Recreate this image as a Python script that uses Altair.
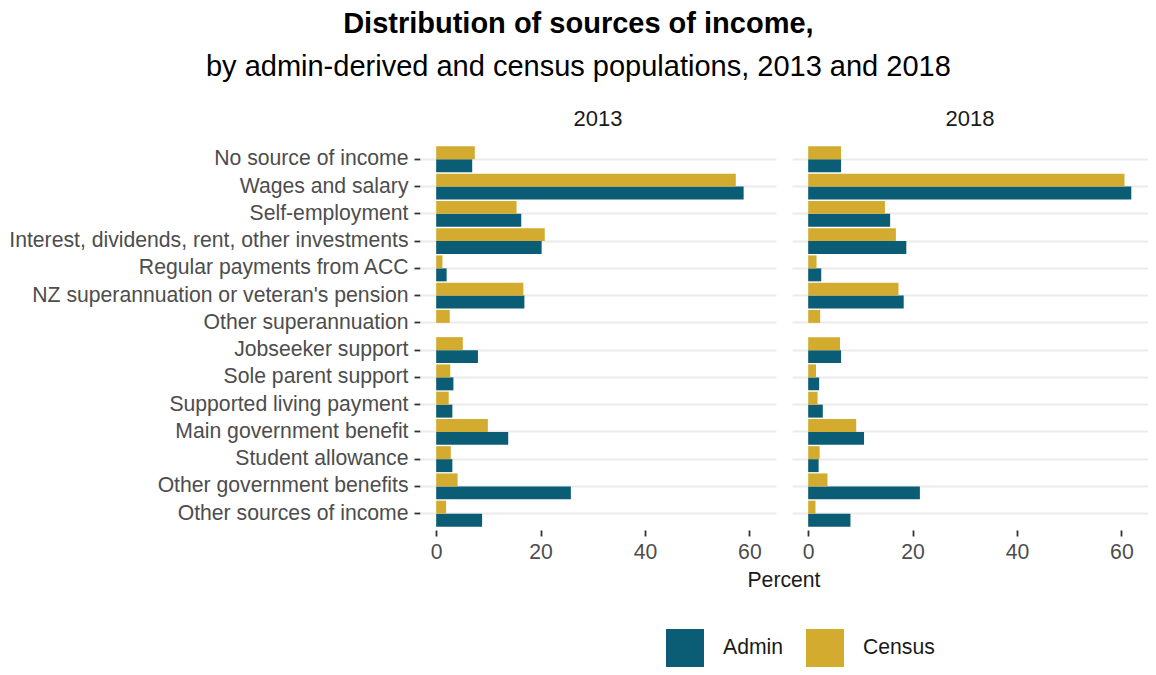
import altair as alt
import pandas as pd

categories = [
    "No source of income", "Wages and salary", "Self-employment",
    "Interest, dividends, rent, other investments", "Regular payments from ACC",
    "NZ superannuation or veteran's pension", "Other superannuation",
    "Jobseeker support", "Sole parent support", "Supported living payment",
    "Main government benefit", "Student allowance", "Other government benefits",
    "Other sources of income",
]
years = ["2013", "2018"]
series = ["Admin", "Census"]
admin_2013 = [6.9, 58.9, 16.3, 20.2, 2.0, 16.9, None, 8.0, 3.3, 3.1, 13.8, 3.1, 25.8, 8.8]
census_2013 = [7.4, 57.4, 15.4, 20.8, 1.2, 16.7, 2.6, 5.1, 2.7, 2.4, 9.9, 2.8, 4.1, 1.9]
admin_2018 = [6.3, 61.9, 15.7, 18.8, 2.5, 18.3, None, 6.3, 2.1, 2.8, 10.7, 2.0, 21.4, 8.1]
census_2018 = [6.3, 60.6, 14.7, 16.8, 1.6, 17.3, 2.3, 6.1, 1.5, 1.8, 9.2, 2.2, 3.7, 1.4]
x_ticks = [0, 20, 40, 60]

rows = []
for yr, a, c in [("2013", admin_2013, census_2013), ("2018", admin_2018, census_2018)]:
    for cat, av, cv in zip(categories, a, c):
        rows.append({"Year": yr, "Source": cat, "Population": "Admin", "Percent": av})
        rows.append({"Year": yr, "Source": cat, "Population": "Census", "Percent": cv})
df = pd.DataFrame(rows).dropna()

FONT = "Liberation Sans"
LAB = 21.2

base = alt.Chart().mark_bar().encode(
    x=alt.X("Percent:Q", title=None,
            scale=alt.Scale(domain=[-3.1, 65.1], nice=False, zero=False),
            axis=alt.Axis(values=x_ticks, grid=False, domain=False, tickSize=6,
                          tickWidth=1.8, tickColor="#333333", labelFontSize=LAB,
                          labelColor="#4d4d4d", labelPadding=5, labelFont=FONT)),
    y=alt.Y("Source:N", sort=categories, title=None,
            scale=alt.Scale(paddingInner=0, paddingOuter=0.1),
            axis=alt.Axis(grid=True, gridColor="#ebebeb", gridWidth=2, domain=False,
                          tickSize=6, tickWidth=1.8, tickColor="#333333",
                          labelFontSize=LAB, labelColor="#4d4d4d", labelPadding=6,
                          labelFont=FONT, labelLimit=600)),
    yOffset=alt.YOffset("Population:N", sort=["Census", "Admin"],
                        scale=alt.Scale(paddingOuter=0.05, paddingInner=0)),
    color=alt.Color("Population:N", sort=series,
                    scale=alt.Scale(domain=series, range=["#0b5d75", "#d3ab2f"]),
                    legend=alt.Legend(title=None, orient="none", direction="horizontal",
                                      legendX=246, legendY=486,
                                      symbolType="square", symbolSize=1444,
                                      symbolStrokeWidth=0, labelFontSize=LAB,
                                      labelFont=FONT, labelColor="#1a1a1a",
                                      labelOffset=19, columnPadding=22, padding=0)),
).properties(width=356, height=387)

chart = alt.layer(base, data=df).facet(
    column=alt.Column("Year:N", sort=years,
                      header=alt.Header(title="Percent", titleOrient="bottom",
                                        labelOrient="top", labelFontSize=22,
                                        labelColor="#1a1a1a", labelFont=FONT,
                                        labelPadding=12, titleFontSize=LAB,
                                        titleFontWeight="normal", titleColor="#1a1a1a",
                                        titleFont=FONT, titlePadding=-3)),
    spacing=16,
).properties(
    title=alt.TitleParams(
        text="Distribution of sources of income,",
        subtitle="by admin-derived and census populations, 2013 and 2018",
        fontSize=29, fontWeight="bold", font=FONT, color="#000000",
        subtitleFontSize=29, subtitleFont=FONT, subtitleColor="#000000",
        subtitlePadding=14, anchor="middle", offset=26,
    ),
    padding={"left": 0, "top": 2, "right": 0, "bottom": 0},
).configure_view(stroke=None)

chart.save("out.html", embed_options={"renderer": "svg", "actions": False})
